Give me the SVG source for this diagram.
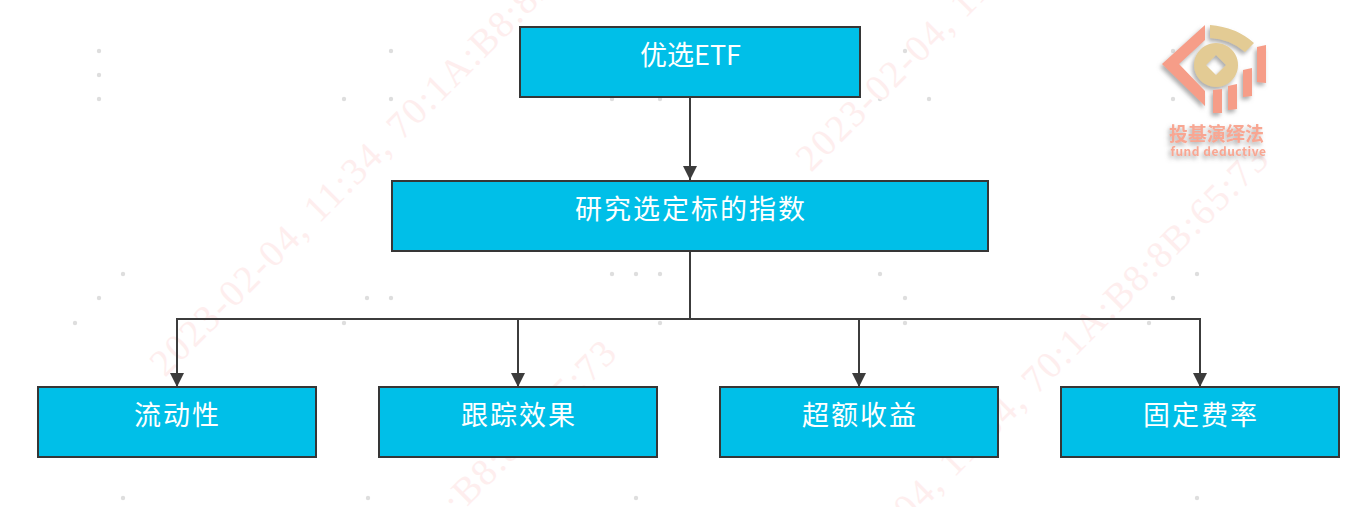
<svg xmlns="http://www.w3.org/2000/svg" width="1371" height="507" viewBox="0 0 1371 507">
<style>
.box{fill:#00bfe8;stroke:#363636;stroke-width:2}
.lbl{font-family:"Noto Sans CJK SC","Noto Sans",sans-serif;font-size:27px;font-weight:400;fill:#fff;text-anchor:middle;letter-spacing:2px}
.wm{font-family:"Liberation Serif",serif;font-size:38px;fill:#feeeee;letter-spacing:1.8px}
.dot{fill:#dedede}
.line{fill:none;stroke:#3c3c3c;stroke-width:2}
.logo{fill:#f69d88}
.logot{font-family:"Noto Sans CJK SC",sans-serif;font-weight:700;fill:#f8a692}
</style>
<defs>
<marker id="arr" markerUnits="userSpaceOnUse" markerWidth="14" markerHeight="14" refX="14" refY="7" orient="auto"><path d="M0 0L14 7L0 14Z" fill="#3c3c3c"/></marker>
<filter id="sh" x="-20%" y="-20%" width="140%" height="150%"><feDropShadow dx="-2" dy="3" stdDeviation="2" flood-color="#777" flood-opacity=".6"/></filter>
<circle id="d" r="2.2" class="dot"/>
</defs>
<g id="background">
<g id="dots">
<use href="#d" x="99" y="51"/><use href="#d" x="99" y="75"/><use href="#d" x="99" y="99"/><use href="#d" x="344" y="99"/><use href="#d" x="391" y="51"/><use href="#d" x="391" y="99"/><use href="#d" x="123" y="274"/><use href="#d" x="99" y="298"/><use href="#d" x="367" y="298"/><use href="#d" x="391" y="298"/><use href="#d" x="75" y="323"/><use href="#d" x="344" y="323"/><use href="#d" x="123" y="498"/><use href="#d" x="368" y="498"/><use href="#d" x="612" y="99"/><use href="#d" x="660" y="99"/><use href="#d" x="612" y="274"/><use href="#d" x="636" y="274"/><use href="#d" x="660" y="274"/><use href="#d" x="660" y="323"/><use href="#d" x="636" y="498"/><use href="#d" x="905" y="51"/><use href="#d" x="880" y="99"/><use href="#d" x="929" y="99"/><use href="#d" x="880" y="274"/><use href="#d" x="905" y="298"/><use href="#d" x="905" y="323"/><use href="#d" x="1173" y="51"/><use href="#d" x="1173" y="99"/><use href="#d" x="1197" y="274"/><use href="#d" x="1173" y="298"/><use href="#d" x="1149" y="323"/><use href="#d" x="1197" y="498"/>
</g>
<g id="watermark">
<text class="wm" transform="translate(165 378) rotate(-45)">2023-02-04, 11:34, 70:1A:B8:8B:65:73</text>
<text class="wm" transform="translate(811 173) rotate(-45)">2023-02-04, 11:34, 70:1A:B8:8B:65:73</text>
<text class="wm" transform="translate(148 826) rotate(-45)">2023-02-04, 11:34, 70:1A:B8:8B:65:73</text>
<text class="wm" transform="translate(800 632) rotate(-45)">2023-02-04, 11:34, 70:1A:B8:8B:65:73</text>
</g>
</g>
<g id="connectors">
<path class="line" d="M690 97V180" marker-end="url(#arr)"/>
<path class="line" d="M690 251V319"/>
<path class="line" d="M690 319H177V387" marker-end="url(#arr)"/>
<path class="line" d="M690 319H518V387" marker-end="url(#arr)"/>
<path class="line" d="M690 319H859V387" marker-end="url(#arr)"/>
<path class="line" d="M690 319H1200V387" marker-end="url(#arr)"/>
</g>
<g id="node-etf"><rect class="box" x="520" y="27" width="340" height="70"/><text class="lbl" style="letter-spacing:0" x="690.500" y="65">优选ETF</text></g>
<g id="node-index"><rect class="box" x="392" y="181" width="596" height="70"/><text class="lbl" x="691" y="219">研究选定标的指数</text></g>
<g id="node-liquidity"><rect class="box" x="38" y="387" width="278" height="70"/><text class="lbl" x="177.500" y="425">流动性</text></g>
<g id="node-tracking"><rect class="box" x="379" y="387" width="278" height="70"/><text class="lbl" x="519" y="425">跟踪效果</text></g>
<g id="node-excess"><rect class="box" x="720" y="387" width="278" height="70"/><text class="lbl" x="860" y="425">超额收益</text></g>
<g id="node-fee"><rect class="box" x="1061" y="387" width="278" height="70"/><text class="lbl" x="1201" y="425">固定费率</text></g>
<g id="logo">
<g filter="url(#sh)">
<path class="logo" d="M1205 25L1162 64L1205 106V91L1179 64L1205 40Z"/>
<path d="M1210 25Q1236 27 1254 43L1245 52Q1230 39 1210 38Z" fill="#e3cb94"/>
<path fill="#e3cb94" fill-rule="evenodd" d="M1216 43a22 22 0 1 0 .01 0ZM1216 55L1226 65L1216 75L1206 65Z"/>
<path class="logo" d="M1213 90L1222 89V113L1213 113Z"/>
<path class="logo" d="M1228 86L1237 84V109L1228 110Z"/>
<path class="logo" d="M1243 70L1252 68V96L1243 97Z"/>
<path class="logo" d="M1257 47L1266 45V83L1257 82Z"/>
<text class="logot" x="1216.500" y="141" font-size="19" text-anchor="middle">投基演绎法</text>
<text class="logot" x="1218.500" y="156" font-size="12" text-anchor="middle" letter-spacing=".5">fund deductive</text>
</g>
</g>
</svg>
